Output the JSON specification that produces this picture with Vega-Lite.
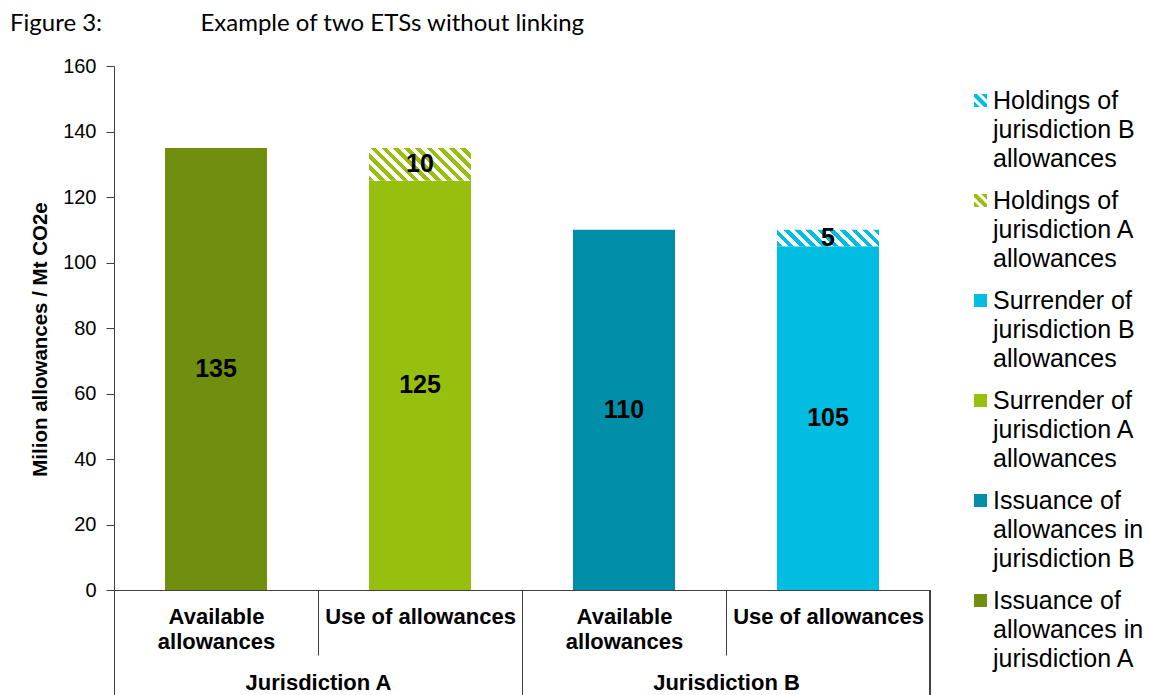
{
  "$schema": "https://vega.github.io/schema/vega-lite/v6.json",
  "autosize": "none",
  "width": 816,
  "height": 524,
  "padding": {"left": 114, "top": 66, "right": 220, "bottom": 105},
  "background": "white",
  "title": {
    "text": "Figure 3:\u00a0\u00a0\u00a0\u00a0\u00a0\u00a0\u00a0\u00a0\u00a0\u00a0\u00a0\u00a0\u00a0\u00a0\u00a0\u00a0Example of two ETSs without linking",
    "anchor": "start",
    "frame": "group",
    "dx": -104,
    "offset": 20,
    "font": "Lato",
    "fontSize": 24,
    "fontWeight": "normal",
    "color": "#000000"
  },
  "config": {
    "font": "Liberation Sans",
    "view": {"stroke": null},
    "axis": {"grid": false}
  },
  "data": {
    "values": [
      {"jur": "Jurisdiction A", "cat": "A|Available allowances", "series": "Issuance of allowances in jurisdiction A", "value": 135},
      {"jur": "Jurisdiction A", "cat": "A|Use of allowances", "series": "Surrender of jurisdiction A allowances", "value": 125},
      {"jur": "Jurisdiction A", "cat": "A|Use of allowances", "series": "Holdings of jurisdiction A allowances", "value": 10},
      {"jur": "Jurisdiction B", "cat": "B|Available allowances", "series": "Issuance of allowances in jurisdiction B", "value": 110},
      {"jur": "Jurisdiction B", "cat": "B|Use of allowances", "series": "Surrender of jurisdiction B allowances", "value": 105},
      {"jur": "Jurisdiction B", "cat": "B|Use of allowances", "series": "Holdings of jurisdiction B allowances", "value": 5}
    ]
  },
  "transform": [
    {"stack": "value", "groupby": ["cat"], "sort": [{"field": "series", "order": "descending"}], "as": ["lo", "hi"]}
  ],
  "resolve": {"axis": {"x": "independent"}},
  "layer": [
    {
      "transform": [{"filter": "indexof(datum.series, 'Holdings') < 0"}],
      "mark": {"type": "bar", "width": 102},
      "encoding": {
        "x": {
          "field": "cat", "type": "nominal",
          "scale": {"paddingInner": 0, "paddingOuter": 0},
          "axis": {
            "title": null,
            "orient": "bottom",
            "labelAngle": 0,
            "labelExpr": "indexof(datum.value, 'Available') >= 0 ? ['Available', 'allowances'] : 'Use of allowances'",
            "labelFont": "Liberation Sans",
            "labelFontSize": 22,
            "labelFontWeight": "bold",
            "labelColor": "#000000",
            "labelBaseline": "top",
            "labelLineHeight": 25,
            "labelPadding": -49,
            "labelLimit": 400,
            "labelOverlap": false,
            "tickOffset": -102,
            "labelOffset": 102,
            "tickSize": 65,
            "tickColor": "#404040",
            "domainColor": "#404040"
          }
        },
        "y": {
          "field": "lo", "type": "quantitative",
          "scale": {"domain": [0, 160], "nice": false},
          "axis": {
            "title": "Milion allowances / Mt CO2e",
            "values": [0, 20, 40, 60, 80, 100, 120, 140, 160],
            "labelFont": "Liberation Sans",
            "labelFontSize": 20,
            "labelColor": "#000000",
            "labelPadding": 10,
            "tickSize": 8,
            "tickColor": "#404040",
            "domainColor": "#404040",
            "titleFont": "Liberation Sans",
            "titleFontSize": 20.5,
            "titleFontWeight": "bold",
            "titleColor": "#000000",
            "titlePadding": 12,
            "titleY": 273
          }
        },
        "y2": {"field": "hi"},
        "color": {
          "field": "series", "type": "nominal",
          "scale": {
            "domain": [
              "Holdings of jurisdiction B allowances",
              "Holdings of jurisdiction A allowances",
              "Surrender of jurisdiction B allowances",
              "Surrender of jurisdiction A allowances",
              "Issuance of allowances in jurisdiction B",
              "Issuance of allowances in jurisdiction A"
            ],
            "range": ["#00BDE1", "#97BF0D", "#00BDE1", "#97BF0D", "#008EA8", "#718F0E"]
          },
          "legend": {
            "orient": "none",
            "legendX": 854,
            "legendY": 22,
            "padding": 0,
            "title": null,
            "labelExpr": "split(replace(replace(datum.label, ' jurisdiction', '|jurisdiction'), ' allowances', '|allowances'), '|')",
            "labelFont": "Liberation Sans",
            "labelFontSize": 25,
            "labelColor": "#000000",
            "labelLimit": 300,
            "labelOffset": 0,
            "rowPadding": 16,
            "symbolSize": 169,
            "symbolType": "square",
            "symbolStrokeWidth": 0,
            "encode": {
              "labels": {
                "update": {
                  "lineHeight": {"value": 29.2}
                }
              },
              "symbols": {
                "update": {
                  "shape": {"signal": "indexof(datum.value, 'Holdings') >= 0 ? 'M-1,-1L-0.55,-1L1,0.55L1,1L0.55,1L-1,-0.55ZM0.1,-1L1,-1L1,-0.1ZM-1,0.1L-1,1L-0.1,1Z' : 'square'"}
                }
              }
            }
          }
        }
      }
    },
    {
      "transform": [{"filter": "datum.series == 'Holdings of jurisdiction A allowances'"}],
      "mark": {
        "type": "bar",
        "width": 102,
        "fill": {
          "gradient": "linear", "x1": 0, "y1": 1, "x2": 1.1976, "y2": 0.6155,
          "stops": [
            {"offset": 0, "color": "#97BF0D"}, {"offset": 0.0417, "color": "#97BF0D"},
            {"offset": 0.0417, "color": "#FFFFFF"}, {"offset": 0.0833, "color": "#FFFFFF"},
            {"offset": 0.0833, "color": "#97BF0D"}, {"offset": 0.125, "color": "#97BF0D"},
            {"offset": 0.125, "color": "#FFFFFF"}, {"offset": 0.1667, "color": "#FFFFFF"},
            {"offset": 0.1667, "color": "#97BF0D"}, {"offset": 0.2083, "color": "#97BF0D"},
            {"offset": 0.2083, "color": "#FFFFFF"}, {"offset": 0.25, "color": "#FFFFFF"},
            {"offset": 0.25, "color": "#97BF0D"}, {"offset": 0.2917, "color": "#97BF0D"},
            {"offset": 0.2917, "color": "#FFFFFF"}, {"offset": 0.3333, "color": "#FFFFFF"},
            {"offset": 0.3333, "color": "#97BF0D"}, {"offset": 0.375, "color": "#97BF0D"},
            {"offset": 0.375, "color": "#FFFFFF"}, {"offset": 0.4167, "color": "#FFFFFF"},
            {"offset": 0.4167, "color": "#97BF0D"}, {"offset": 0.4583, "color": "#97BF0D"},
            {"offset": 0.4583, "color": "#FFFFFF"}, {"offset": 0.5, "color": "#FFFFFF"},
            {"offset": 0.5, "color": "#97BF0D"}, {"offset": 0.5417, "color": "#97BF0D"},
            {"offset": 0.5417, "color": "#FFFFFF"}, {"offset": 0.5833, "color": "#FFFFFF"},
            {"offset": 0.5833, "color": "#97BF0D"}, {"offset": 0.625, "color": "#97BF0D"},
            {"offset": 0.625, "color": "#FFFFFF"}, {"offset": 0.6667, "color": "#FFFFFF"},
            {"offset": 0.6667, "color": "#97BF0D"}, {"offset": 0.7083, "color": "#97BF0D"},
            {"offset": 0.7083, "color": "#FFFFFF"}, {"offset": 0.75, "color": "#FFFFFF"},
            {"offset": 0.75, "color": "#97BF0D"}, {"offset": 0.7917, "color": "#97BF0D"},
            {"offset": 0.7917, "color": "#FFFFFF"}, {"offset": 0.8333, "color": "#FFFFFF"},
            {"offset": 0.8333, "color": "#97BF0D"}, {"offset": 0.875, "color": "#97BF0D"},
            {"offset": 0.875, "color": "#FFFFFF"}, {"offset": 0.9167, "color": "#FFFFFF"},
            {"offset": 0.9167, "color": "#97BF0D"}, {"offset": 0.9583, "color": "#97BF0D"},
            {"offset": 0.9583, "color": "#FFFFFF"}, {"offset": 1, "color": "#FFFFFF"}
          ]
        }
      },
      "encoding": {
        "x": {"field": "cat", "type": "nominal", "axis": null},
        "y": {"field": "lo", "type": "quantitative"},
        "y2": {"field": "hi"}
      }
    },
    {
      "transform": [{"filter": "datum.series == 'Holdings of jurisdiction B allowances'"}],
      "mark": {
        "type": "bar",
        "width": 102,
        "fill": {
          "gradient": "linear", "x1": 0, "y1": 1, "x2": 1.1314, "y2": 0.8184,
          "stops": [
            {"offset": 0, "color": "#00BDE1"}, {"offset": 0.0476, "color": "#00BDE1"},
            {"offset": 0.0476, "color": "#FFFFFF"}, {"offset": 0.0952, "color": "#FFFFFF"},
            {"offset": 0.0952, "color": "#00BDE1"}, {"offset": 0.1429, "color": "#00BDE1"},
            {"offset": 0.1429, "color": "#FFFFFF"}, {"offset": 0.1905, "color": "#FFFFFF"},
            {"offset": 0.1905, "color": "#00BDE1"}, {"offset": 0.2381, "color": "#00BDE1"},
            {"offset": 0.2381, "color": "#FFFFFF"}, {"offset": 0.2857, "color": "#FFFFFF"},
            {"offset": 0.2857, "color": "#00BDE1"}, {"offset": 0.3333, "color": "#00BDE1"},
            {"offset": 0.3333, "color": "#FFFFFF"}, {"offset": 0.381, "color": "#FFFFFF"},
            {"offset": 0.381, "color": "#00BDE1"}, {"offset": 0.4286, "color": "#00BDE1"},
            {"offset": 0.4286, "color": "#FFFFFF"}, {"offset": 0.4762, "color": "#FFFFFF"},
            {"offset": 0.4762, "color": "#00BDE1"}, {"offset": 0.5238, "color": "#00BDE1"},
            {"offset": 0.5238, "color": "#FFFFFF"}, {"offset": 0.5714, "color": "#FFFFFF"},
            {"offset": 0.5714, "color": "#00BDE1"}, {"offset": 0.619, "color": "#00BDE1"},
            {"offset": 0.619, "color": "#FFFFFF"}, {"offset": 0.6667, "color": "#FFFFFF"},
            {"offset": 0.6667, "color": "#00BDE1"}, {"offset": 0.7143, "color": "#00BDE1"},
            {"offset": 0.7143, "color": "#FFFFFF"}, {"offset": 0.7619, "color": "#FFFFFF"},
            {"offset": 0.7619, "color": "#00BDE1"}, {"offset": 0.8095, "color": "#00BDE1"},
            {"offset": 0.8095, "color": "#FFFFFF"}, {"offset": 0.8571, "color": "#FFFFFF"},
            {"offset": 0.8571, "color": "#00BDE1"}, {"offset": 0.9048, "color": "#00BDE1"},
            {"offset": 0.9048, "color": "#FFFFFF"}, {"offset": 0.9524, "color": "#FFFFFF"},
            {"offset": 0.9524, "color": "#00BDE1"}, {"offset": 1, "color": "#00BDE1"}
          ]
        }
      },
      "encoding": {
        "x": {"field": "cat", "type": "nominal", "axis": null},
        "y": {"field": "lo", "type": "quantitative"},
        "y2": {"field": "hi"}
      }
    },
    {
      "transform": [{"calculate": "(datum.lo + datum.hi) / 2", "as": "mid"}],
      "mark": {"type": "text", "font": "Liberation Sans", "fontSize": 25, "fontWeight": "bold", "color": "#000000", "baseline": "middle"},
      "encoding": {
        "x": {
          "field": "cat", "type": "nominal",
          "axis": {
            "title": null,
            "orient": "bottom",
            "domain": false,
            "values": ["A|Available allowances", "B|Available allowances"],
            "labelAngle": 0,
            "labelExpr": "indexof(datum.value, 'A|') == 0 ? 'Jurisdiction A' : 'Jurisdiction B'",
            "tickOffset": -102,
            "labelOffset": 204,
            "labelFont": "Liberation Sans",
            "labelFontSize": 22,
            "labelFontWeight": "bold",
            "labelColor": "#000000",
            "labelBaseline": "top",
            "labelPadding": -23,
            "labelLimit": 400,
            "labelOverlap": false,
            "tickSize": 105,
            "tickColor": "#404040"
          }
        },
        "y": {"field": "mid", "type": "quantitative"},
        "text": {"field": "value", "type": "quantitative"}
      }
    },
    {
      "mark": {"type": "rule", "color": "#404040", "clip": false},
      "encoding": {
        "x": {"datum": "B|Use of allowances", "type": "nominal", "bandPosition": 1, "axis": null},
        "y": {"datum": 0, "type": "quantitative"},
        "y2": {"datum": -32}
      }
    }
  ]
}
